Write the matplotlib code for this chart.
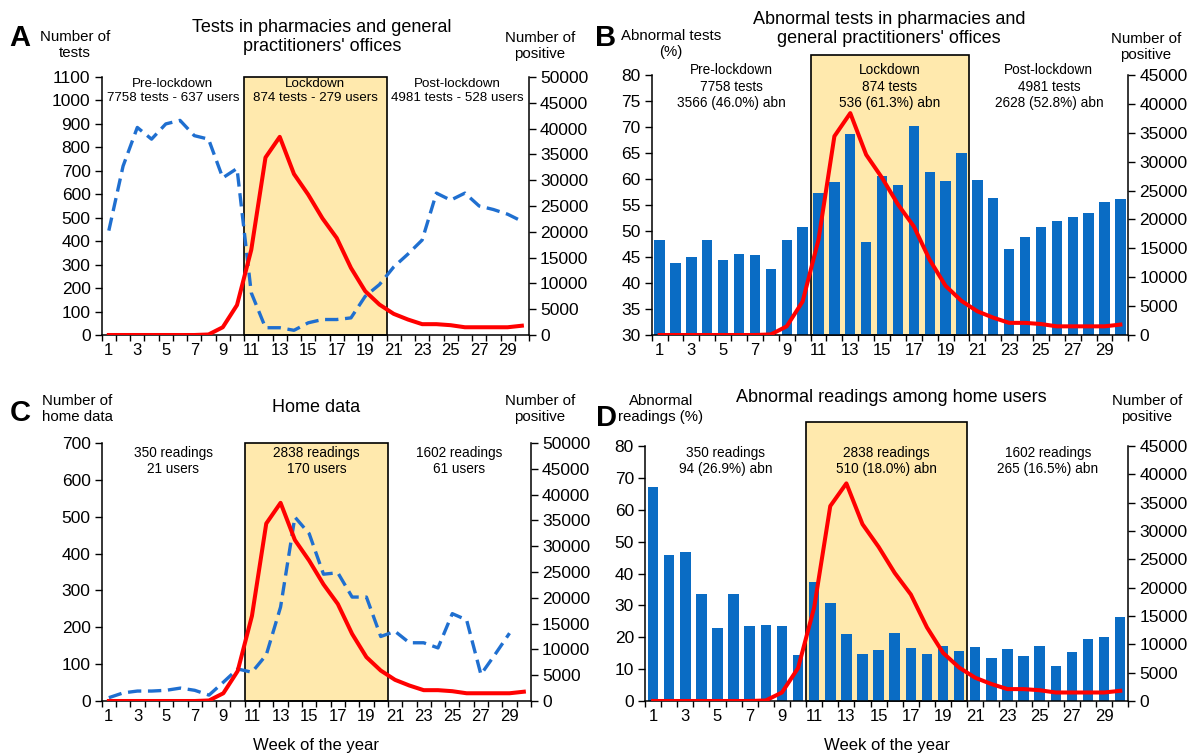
import matplotlib
matplotlib.use("Agg")
import matplotlib.pyplot as plt
from matplotlib.patches import Rectangle
import numpy as np

plt.rcParams['font.family'] = ['Liberation Sans', 'DejaVu Sans']

weeks = np.arange(1, 31)

# number of positive cases (same curve in all four panels)
positive = [0, 0, 0, 0, 0, 0, 0, 100, 1500, 5800, 16500, 34400, 38400, 31200, 27200,
            22600, 18800, 13000, 8500, 5900, 4100, 3000, 2100, 2100, 1900,
            1500, 1500, 1500, 1500, 1800]

# A: number of tests in pharmacies / GP offices
tests = [445, 720, 885, 835, 900, 915, 850, 835, 670, 710, 180, 31, 31, 20, 52,
         66, 66, 73, 165, 215, 290, 345, 405, 605, 575, 605, 550, 535, 515, 485]

# B: abnormal tests (%)
abn_tests = [48.2, 43.9, 45.0, 48.3, 44.4, 45.5, 45.3, 42.6, 48.3, 50.8,
             57.4, 59.5, 68.6, 47.9, 60.5, 58.8, 70.2, 61.4, 59.6, 65.0,
             59.8, 56.3, 46.5, 48.9, 50.7, 52.0, 52.6, 53.4, 55.6, 56.2]

# C: number of home data (weeks 1-29)
home = [9, 22, 27, 27, 29, 35, 29, 16, 51, 87, 78, 125, 255, 499, 454,
        344, 348, 282, 282, 175, 189, 158, 158, 144, 237, 220, 72, 127, 184]

# D: abnormal readings (%)
abn_home = [67.0, 45.7, 46.7, 33.5, 22.9, 33.5, 23.4, 23.7, 23.4, 14.5,
            37.4, 30.6, 21.0, 14.7, 15.9, 21.3, 16.5, 14.7, 17.3, 15.7,
            16.8, 13.4, 16.2, 14.2, 17.1, 11.1, 15.4, 19.3, 20.0, 26.2]

notes_a = ["Pre-lockdown\n7758 tests - 637 users", "Lockdown\n874 tests - 279 users",
           "Post-lockdown\n4981 tests - 528 users"]
notes_b = ["Pre-lockdown\n7758 tests\n3566 (46.0%) abn", "Lockdown\n874 tests\n536 (61.3%) abn",
           "Post-lockdown\n4981 tests\n2628 (52.8%) abn"]
notes_c = ["350 readings\n21 users", "2838 readings\n170 users", "1602 readings\n61 users"]
notes_d = ["350 readings\n94 (26.9%) abn", "2838 readings\n510 (18.0%) abn",
           "1602 readings\n265 (16.5%) abn"]
note_x = [5.5, 15.5, 25.5]

W, H = 1196, 756
RED = "#ff0000"
BLUE = "#1f6fd0"
BAR = "#0a6cc4"
BOX = "#ffe9ad"
TICK = 12.5

fig = plt.figure(figsize=(W / 100, H / 100), dpi=100)


def add_axes(left, right, top, bottom):
    return fig.add_axes([left / W, 1 - bottom / H, (right - left) / W, (bottom - top) / H])


def style(ax, ax2):
    ax.set_xlim(0.5, 30.5)
    ax.set_xticks(np.arange(1, 30, 2))
    ax.set_xticks(np.arange(0.5, 31, 1), minor=True)
    ax.tick_params(axis='x', which='major', length=0, pad=6, labelsize=TICK - 0.5)
    ax.tick_params(axis='x', which='minor', length=4, width=1)
    ax.tick_params(axis='y', length=5, width=1, pad=3, labelsize=TICK)
    ax2.tick_params(axis='y', length=5, width=1, pad=3, labelsize=TICK)
    for a in (ax, ax2):
        a.spines['top'].set_visible(False)
        for s in ('left', 'right', 'bottom'):
            a.spines[s].set_linewidth(1.1)
    ax.spines['right'].set_visible(False)
    ax2.spines['left'].set_visible(False)
    ax2.spines['bottom'].set_visible(False)


def lockdown_box(ax, y0, y1):
    ax.add_patch(Rectangle((10.5, y0), 10, y1 - y0, facecolor=BOX, edgecolor='black',
                           linewidth=1.2, zorder=0, clip_on=False))


def notes(ax, texts, y, size):
    for x, t in zip(note_x, texts):
        ax.text(x, y, t, transform=ax.get_xaxis_transform(), ha='center', va='top',
                fontsize=size, linespacing=1.2, zorder=5)


def ftext(x, y, s, **kw):
    fig.text(x / W, 1 - y / H, s, ha='center', va='center', **kw)


# ---- A
ax = add_axes(101.7, 529, 77, 335)
ax2 = ax.twinx()
lockdown_box(ax, 0, 1100)
ax.plot(weeks, tests, color=BLUE, lw=2.4, dashes=(4, 2), zorder=3)
ax2.plot(weeks, positive, color=RED, lw=2.9)
ax.set_ylim(0, 1100)
ax.set_yticks(np.arange(0, 1101, 100))
ax2.set_ylim(0, 50000)
ax2.set_yticks(np.arange(0, 50001, 5000))
style(ax, ax2)
notes(ax, notes_a, 0.995, 9.6)

# ---- B
bx = add_axes(651.7, 1128.3, 75, 335)
bx2 = bx.twinx()
lockdown_box(bx, 30, 83.9)
bx.bar(weeks, abn_tests, width=0.65, color=BAR, zorder=2)
bx2.plot(weeks, positive, color=RED, lw=2.9)
bx.set_ylim(30, 80)
bx.set_yticks(np.arange(30, 81, 5))
bx2.set_ylim(0, 45000)
bx2.set_yticks(np.arange(0, 45001, 5000))
style(bx, bx2)
notes(bx, notes_b, 1.045, 9.8)

# ---- C
cx = add_axes(101.7, 531, 443, 701)
cx2 = cx.twinx()
lockdown_box(cx, 0, 700)
cx.plot(weeks[:len(home)], home, color=BLUE, lw=2.4, dashes=(4, 2), zorder=3)
cx2.plot(weeks, positive, color=RED, lw=2.9)
cx.set_ylim(0, 700)
cx.set_yticks(np.arange(0, 701, 100))
cx2.set_ylim(0, 50000)
cx2.set_yticks(np.arange(0, 50001, 5000))
style(cx, cx2)
notes(cx, notes_c, 0.99, 9.8)
cx.set_xlabel("Week of the year", fontsize=12, labelpad=10)

# ---- D
dx = add_axes(645, 1128.3, 446, 701)
dx2 = dx.twinx()
lockdown_box(dx, 0, 87.5)
dx.bar(weeks, abn_home, width=0.65, color=BAR, zorder=2)
dx2.plot(weeks, positive, color=RED, lw=2.9)
dx.set_ylim(0, 80)
dx.set_yticks(np.arange(0, 81, 10))
dx2.set_ylim(0, 45000)
dx2.set_yticks(np.arange(0, 45001, 5000))
style(dx, dx2)
notes(dx, notes_d, 1.0, 9.8)
dx.set_xlabel("Week of the year", fontsize=12, labelpad=10)

# headers
big = dict(fontsize=21, fontweight='bold')
hdr = dict(fontsize=10.8, linespacing=1.1)
ttl = dict(fontsize=13, linespacing=1.15)

ftext(20, 38, "A", **big)
ftext(75, 45, "Number of\ntests", **hdr)
ftext(322, 37, "Tests in pharmacies and general\npractitioners' offices", **ttl)
ftext(540, 46, "Number of\npositive", **hdr)

ftext(606, 38, "B", **big)
ftext(671, 44, "Abnormal tests\n(%)", **hdr)
ftext(889, 29, "Abnormal tests in pharmacies and\ngeneral practitioners' offices", **ttl)
ftext(1146, 47, "Number of\npositive", **hdr)

ftext(20, 413, "C", **big)
ftext(77, 409, "Number of\nhome data", **hdr)
ftext(316, 407, "Home data", **ttl)
ftext(540, 409, "Number of\npositive", **hdr)

ftext(606, 418, "D", **big)
ftext(661, 409, "Abnormal\nreadings (%)", **hdr)
ftext(891, 397, "Abnormal readings among home users", **ttl)
ftext(1147, 409, "Number of\npositive", **hdr)

fig.savefig("out.png", dpi=100)
